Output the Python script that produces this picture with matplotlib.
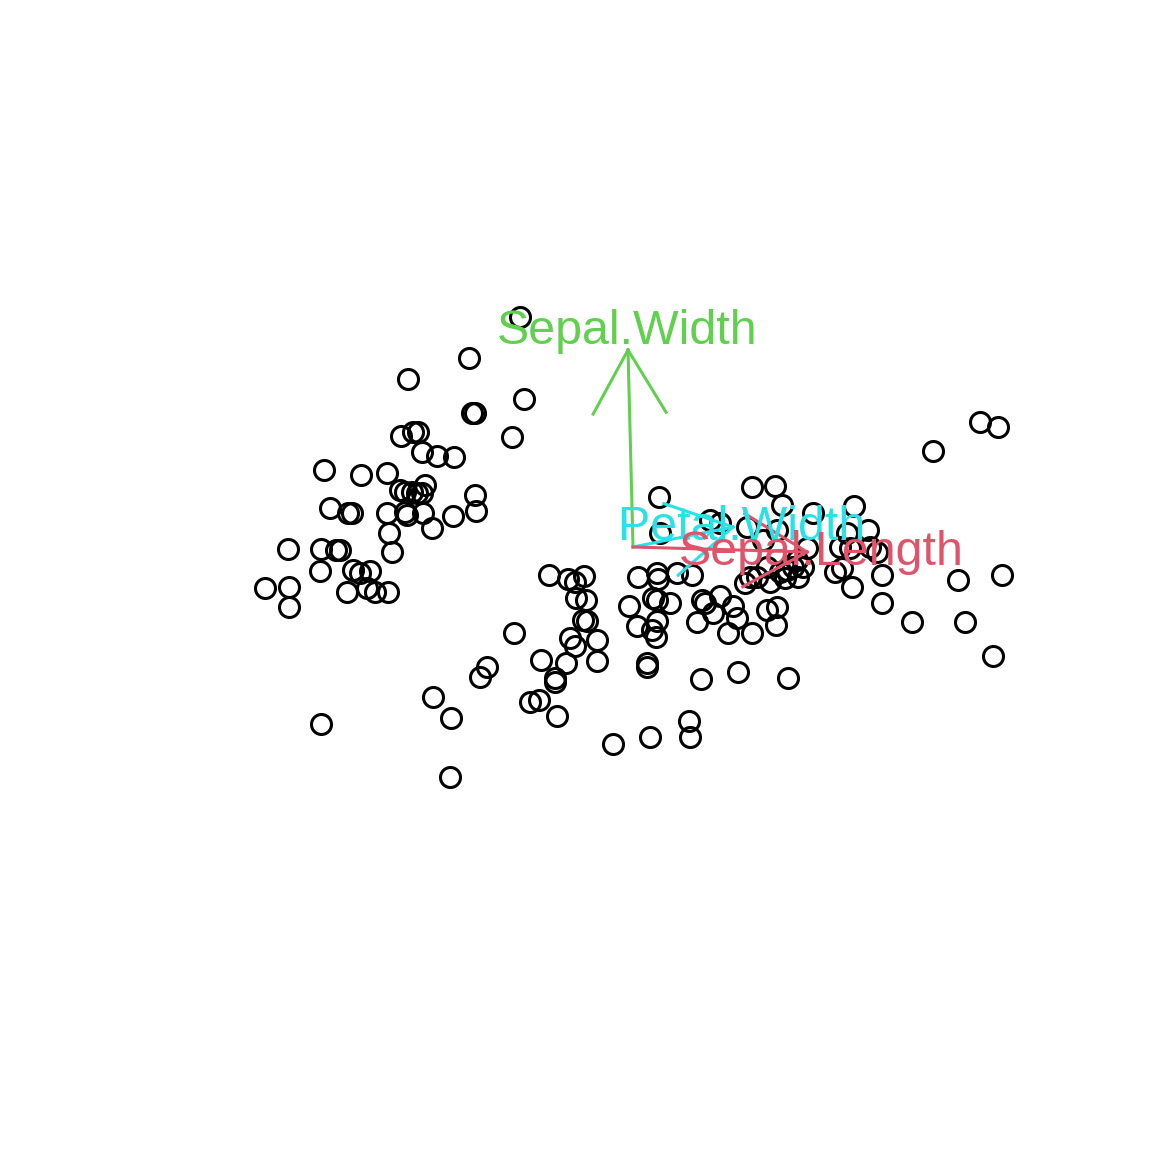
import numpy as np
import matplotlib
matplotlib.use('Agg')
import matplotlib.pyplot as plt

plt.rcParams['font.family'] = ['Liberation Sans', 'DejaVu Sans']

# scores (origin at arrow base, 1 unit = 100 px)
px = [469, 408, 472, 475, 401, 413, 418, 422, 437, 454, 324, 361, 387, 425, 400, 405, 412, 417, 422, 475,
      330, 348, 352, 387, 405, 407, 423, 453, 476, 432, 389, 392, 288, 321, 336, 340, 320, 353, 360, 370,
      265, 289, 347, 367, 375, 388, 289, 520, 524, 512, 321,
      514, 487, 480, 433, 451, 450, 549, 568, 575, 584, 576, 586, 583, 587, 570, 575, 597, 541, 566,
      597, 555, 555, 530, 539, 557, 613, 650, 689, 690, 701, 647, 647, 629, 638, 657, 658, 692, 677, 653,
      657, 670, 637, 652, 656, 657, 697, 702, 705, 713, 720, 728, 738, 659, 710, 660, 752, 775, 782, 737,
      752, 767, 777, 776, 745, 757, 767, 780, 785, 797, 793, 720, 747, 763, 777, 813, 854, 868, 850, 870,
      877, 807, 835, 842, 852, 882, 958, 1002, 882, 912, 965, 993, 788, 980, 998, 933, 847, 840, 803, 787,
      798, 770, 750, 733]
py = [358, 379, 413, 413, 436, 432, 432, 452, 456, 457, 470, 475, 473, 485, 490, 492, 492, 493, 493, 495,
      508, 513, 513, 513, 512, 515, 513, 516, 511, 528, 533, 552, 549, 549, 550, 550, 571, 570, 573, 571,
      588, 587, 592, 588, 592, 592, 607, 317, 399, 437, 724,
      633, 667, 677, 697, 718, 777, 575, 579, 582, 576, 598, 600, 620, 621, 638, 646, 640, 660, 663,
      661, 678, 682, 702, 700, 716, 744, 737, 721, 737, 679, 663, 667, 606, 577, 573, 579, 575, 573, 598,
      600, 603, 626, 630, 637, 621, 622, 600, 603, 613, 596, 633, 672, 497, 520, 533, 487, 486, 505, 618,
      633, 610, 607, 625, 583, 577, 567, 572, 578, 560, 567, 523, 527, 540, 530, 513, 506, 530, 548, 547,
      552, 548, 572, 568, 587, 575, 580, 575, 603, 622, 622, 656, 678, 422, 427, 451, 533, 547, 567, 570,
      577, 582, 577, 606]
pc1 = (np.array(px) - 633) / 100
pc2 = (547 - np.array(py)) / 100

# variable arrows
var_names = ['Sepal.Width', 'Petal.Width', 'Sepal.Length']
var_x = [-0.05, 1.00, 1.74]
var_y = [1.97, 0.20, -0.05]
lab_x = [-0.06, 1.09, 1.88]
lab_y = [2.03, 0.07, -0.18]
var_cols = ['#61D04F', '#28E2E5', '#DF536B']

fig = plt.figure(figsize=(11.52, 11.52), dpi=100)
ax = fig.add_axes([0, 0, 1, 1])
ax.set_xlim(-6.33, 5.19)
ax.set_ylim(-6.05, 5.47)
ax.axis('off')

ax.plot(pc1, pc2, 'o', ms=14.4, mfc='none', mec='black', mew=2.2, zorder=1)

head = 0.73
for i in range(len(var_names)):
    tx, ty = var_x[i], var_y[i]
    ax.plot([0, tx], [0, ty], color=var_cols[i], lw=2.2, zorder=2)
    ang = np.arctan2(ty, tx) + np.pi
    for d in [np.pi/6, -np.pi/6]:
        ax.plot([tx, tx + head*np.cos(ang + d)], [ty, ty + head*np.sin(ang + d)],
                color=var_cols[i], lw=2.2, zorder=2)
for i in range(len(var_names)):
    ax.text(lab_x[i], lab_y[i], var_names[i], color=var_cols[i], fontsize=34.8,
            ha='center', va='baseline', zorder=3)

plt.savefig('out.png', dpi=100)
